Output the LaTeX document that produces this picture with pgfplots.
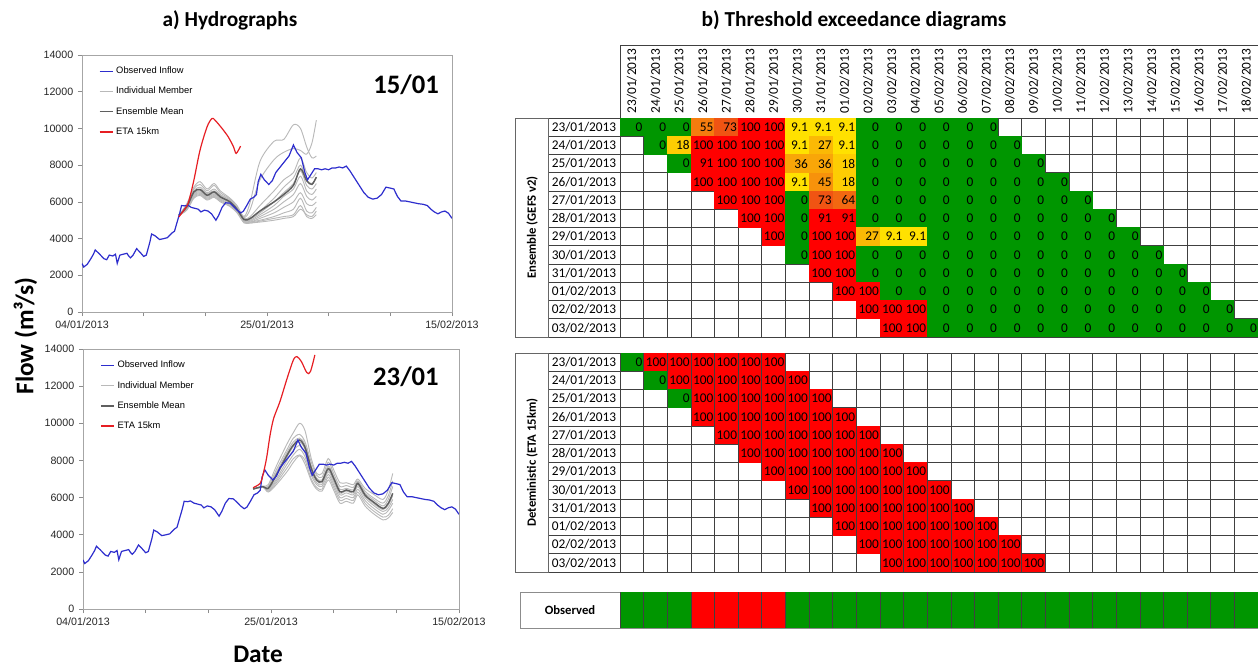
\documentclass[border=0pt]{standalone}
\usepackage{fontspec}
\setmainfont{Carlito}
\newfontfamily\arial{Liberation Sans}
\usepackage{pgfplots}
\usepackage{pgfplotstable}
\pgfplotsset{compat=1.18}

\definecolor{obsblue}{RGB}{45,45,205}
\definecolor{etared}{RGB}{230,30,35}
\definecolor{memgray}{RGB}{185,185,185}
\definecolor{meangray}{RGB}{95,95,95}

% table cells (one column = 17.72pt)
\pgfdeclareplotmark{cellE}{\pgfpathrectangle{\pgfqpoint{-8.95pt}{-6.95pt}}{\pgfqpoint{17.9pt}{13.9pt}}\pgfusepathqfill}
\pgfdeclareplotmark{cellO}{\pgfpathrectangle{\pgfqpoint{-8.95pt}{-13.6pt}}{\pgfqpoint{17.9pt}{27.2pt}}\pgfusepathqfill}
\pgfdeclareplotmark{nothing}{}

\pgfplotsset{
  hydro/.style={
    scale only axis, anchor=south west,
    xmin=0, xmax=42, ymin=0, ymax=14000,
    xtick={0,7,...,42}, xticklabels={04/01/2013,,,25/01/2013,,,15/02/2013},
    ytick={0,2000,...,14000}, scaled y ticks=false,
    xtick pos=bottom, ytick pos=left, tick align=outside, major tick length=3pt,
    tick style={black!45, line width=0.5pt},
    axis line style={black!35, line width=0.6pt},
    tick label style={font=\arial\fontsize{8}{9}\selectfont, text=black!85},
    /pgf/number format/1000 sep={}, /pgf/number format/assume math mode=true,
    legend style={at={(axis description cs:0.045,0.965)}, anchor=north west, draw=none, fill=none,
      font=\arial\fontsize{7}{8}\selectfont, row sep=4.6pt, inner sep=0pt},
    legend cell align=left,
    legend image code/.code={\draw[##1] (0pt,0pt) -- (10pt,0pt);},
  },
  exctable/.style={
    scale only axis, anchor=south west, y dir=reverse, xmax=26.5,
    major tick length=0pt, minor tick length=0pt,
    minor xtick={-0.5,0.5,...,26.5},
    xminorgrids, yminorgrids,
    minor grid style={black!75, line width=0.45pt},
    axis line style={black!75, line width=0.6pt},
    axis on top,
    colormap={exc}{rgb255(0pt)=(0,150,0); rgb255(1pt)=(0,150,0); rgb255(5pt)=(255,228,0); rgb255(9pt)=(255,225,0); rgb255(75pt)=(240,80,20); rgb255(85pt)=(255,0,0); rgb255(100pt)=(255,0,0)},
    point meta min=0, point meta max=100,
    tick label style={font=\fontsize{10}{11}\selectfont},
    /pgf/number format/assume math mode=true,
  },
  nolabels/.style={xtick={0,...,26}, xticklabels={,,,,,,,,,,,,,,,,,,,,,,,,,,}},
  excplot/.style={
    scatter, only marks, mark=#1, scatter src=explicit,
    scatter/use mapped color={draw=none, fill=mapped color},
  },
  excnums/.style={
    only marks, mark=nothing, point meta=explicit,
    nodes near coords,
    every node near coord/.append style={anchor=east, xshift=8.6pt, text=black,
      inner sep=0.4pt, font=\fontsize{10}{11}\selectfont},
  },
}

\pgfplotstableread{
d q
0.0 2640
0.2 2450
0.6 2600
1.0 2900
1.3 3150
1.5 3380
1.9 3200
2.2 3050
2.5 2900
2.8 2850
3.1 3100
3.5 3050
3.8 3150
4.0 2650
4.3 3100
4.7 3150
5.1 3200
5.3 3050
5.5 2950
5.8 3100
6.2 3450
6.6 3250
7.0 3030
7.3 3100
7.7 3800
7.9 4250
8.3 4150
8.8 3950
9.3 4000
9.7 4050
10.2 4300
10.5 4400
10.8 4900
11.1 5400
11.3 5800
11.7 5780
12.0 5820
12.4 5700
12.8 5650
13.2 5600
13.5 5450
13.9 5550
14.3 5500
14.7 5350
15.2 5000
15.5 5250
15.9 5700
16.3 5950
16.8 5930
17.2 5750
17.6 5550
18.0 5400
18.3 5480
18.7 5800
19.1 6150
19.5 6250
19.8 6400
20.0 7100
20.3 7500
20.7 7200
21.2 6950
21.6 7150
22.0 7600
22.5 7900
23.0 8200
23.5 8500
24.0 9100
24.4 8700
24.9 8400
25.3 7600
25.6 7200
26.0 7500
26.4 7800
26.8 7800
27.2 7750
27.6 7800
28.0 7750
28.4 7850
28.8 7850
29.2 7900
29.6 7850
30.0 7950
30.4 7700
30.8 7400
31.2 7100
31.6 6800
32.0 6500
32.5 6250
33.0 6150
33.5 6200
34.0 6400
34.5 6800
35.0 6750
35.4 6700
35.8 6300
36.2 6050
36.7 6050
37.2 6000
37.7 5950
38.2 5900
38.7 5870
39.2 5800
39.6 5600
40.0 5450
40.4 5350
40.8 5450
41.2 5500
41.6 5380
42.0 5100
}\obs

% forecast of 15/01
\pgfplotstableread{
d m1 m2 m3 m4 m5 m6 m7 m8 m9 m10 m11 mean
11.0 5270 5270 5270 5270 5270 5270 5270 5270 5270 5270 5270 5270
11.9 5900 5850 5800 5750 5700 5700 5650 5650 5600 5600 5550 5730
12.7 6800 6700 6600 6550 6500 6450 6400 6350 6300 6250 6200 6545
13.4 7100 6950 6800 6700 6650 6600 6550 6500 6450 6400 6350 6670
14.2 6700 6600 6500 6450 6400 6350 6300 6250 6200 6150 6100 6360
15.0 7000 6900 6700 6600 6550 6500 6450 6400 6350 6300 6250 6545
15.7 6600 6500 6400 6350 6300 6250 6200 6150 6100 6050 6000 6270
16.8 6200 6150 6100 6050 6000 6000 5950 5900 5850 5800 5750 6000
17.6 5800 5700 5700 5650 5600 5600 5550 5500 5500 5450 5400 5600
18.4 5200 5150 5100 5050 5000 5000 4950 4950 4900 4900 4850 5030
19.1 6000 5600 5200 5100 5050 5000 4950 4900 4900 4850 4850 5100
20.2 8200 7200 5800 5500 5400 5300 5200 5100 5000 4950 4900 5500
21.8 9300 8300 6600 6200 6000 5800 5600 5400 5200 5100 5000 6000
22.9 9400 8700 7200 6800 6500 6300 6000 5700 5400 5200 5100 6400
24.0 10200 8900 7600 7300 7000 6700 6400 6000 5600 5300 5200 6900
24.8 10000 8800 8400 8000 7700 7400 7000 6500 6200 5800 5600 7800
25.5 9000 8600 7600 7200 6900 6600 6300 5900 5500 5200 5300 7150
26.1 8400 9200 7300 7000 6700 6400 6100 5800 5400 5100 5200 6950
26.6 8500 10450 7600 7300 7000 6700 6300 6000 5700 5300 5500 7350
}\ensA

\pgfplotstableread{
d q
11.0 5180
11.7 5640
12.1 6000
12.7 7180
13.4 8820
14.2 10090
14.75 10540
15.1 10450
15.9 10000
16.6 9540
17.2 9000
17.5 8640
18.0 9040
}\etaA

% forecast of 23/01
\pgfplotstableread{
d m1 m2 m3 m4 m5 m6 m7 m8 mean
19.0 6460 6460 6460 6460 6460 6460 6460 6460 6460
20.1 6620 6600 6590 6590 6580 6570 6560 6550 6590
20.7 6700 6600 6550 6480 6450 6400 6350 6300 6500
21.6 7700 7500 7350 7150 7000 6900 6800 6700 7220
22.8 8900 8600 8450 8200 8000 7800 7600 7400 8290
23.5 9500 9200 9000 8750 8550 8300 8100 7900 8830
24.2 10000 9400 9200 9000 8800 8600 8300 8250 9100
24.8 9600 9000 8850 8600 8400 8200 8000 7800 8700
25.5 8100 7900 7700 7500 7350 7200 7000 6900 7570
26.1 7300 7200 7050 6900 6800 6700 6550 6450 6950
26.7 7300 7100 6950 6800 6700 6600 6450 6350 6860
27.4 8100 7900 7700 7500 7400 7250 7100 6950 7570
28.0 7500 7300 7150 6950 6850 6700 6550 6400 7040
28.7 6800 6600 6450 6250 6150 6000 5850 5700 6320
29.4 6800 6650 6500 6350 6250 6100 5950 5800 6410
30.2 6700 6550 6420 6250 6150 6000 5850 5700 6320
30.7 7000 6900 6850 6700 6600 6450 6300 6150 6770
31.5 6500 6350 6250 6100 6000 5850 5700 5550 6140
32.4 6200 6000 5900 5700 5600 5450 5300 5150 5780
33.5 5900 5700 5550 5350 5250 5100 4950 4800 5420
34.1 6400 6100 5900 5600 5450 5300 5050 4900 5690
34.6 7300 6900 6600 6100 5900 5700 5400 5200 6230
}\ensB

\pgfplotstableread{
d q
19.0 6530
19.8 6770
20.1 7220
20.5 8110
20.9 9370
21.3 10270
22.0 11170
22.8 12420
23.5 13410
23.9 13590
24.4 13320
25.0 12730
25.4 12780
25.9 13680
}\etaB

% exceedance probabilities (%), column = date, row = forecast issue date
\pgfplotstableread[row sep=\\]{
x y v \\
0 0 0 \\ 1 0 0 \\ 2 0 0 \\ 3 0 55 \\ 4 0 73 \\ 5 0 100 \\ 6 0 100 \\ 7 0 9.1 \\ 8 0 9.1 \\ 9 0 9.1 \\ 10 0 0 \\ 11 0 0 \\ 12 0 0 \\ 13 0 0 \\ 14 0 0 \\ 15 0 0 \\
1 1 0 \\ 2 1 18 \\ 3 1 100 \\ 4 1 100 \\ 5 1 100 \\ 6 1 100 \\ 7 1 9.1 \\ 8 1 27 \\ 9 1 9.1 \\ 10 1 0 \\ 11 1 0 \\ 12 1 0 \\ 13 1 0 \\ 14 1 0 \\ 15 1 0 \\ 16 1 0 \\
2 2 0 \\ 3 2 91 \\ 4 2 100 \\ 5 2 100 \\ 6 2 100 \\ 7 2 36 \\ 8 2 36 \\ 9 2 18 \\ 10 2 0 \\ 11 2 0 \\ 12 2 0 \\ 13 2 0 \\ 14 2 0 \\ 15 2 0 \\ 16 2 0 \\ 17 2 0 \\
3 3 100 \\ 4 3 100 \\ 5 3 100 \\ 6 3 100 \\ 7 3 9.1 \\ 8 3 45 \\ 9 3 18 \\ 10 3 0 \\ 11 3 0 \\ 12 3 0 \\ 13 3 0 \\ 14 3 0 \\ 15 3 0 \\ 16 3 0 \\ 17 3 0 \\ 18 3 0 \\
4 4 100 \\ 5 4 100 \\ 6 4 100 \\ 7 4 0 \\ 8 4 73 \\ 9 4 64 \\ 10 4 0 \\ 11 4 0 \\ 12 4 0 \\ 13 4 0 \\ 14 4 0 \\ 15 4 0 \\ 16 4 0 \\ 17 4 0 \\ 18 4 0 \\ 19 4 0 \\
5 5 100 \\ 6 5 100 \\ 7 5 0 \\ 8 5 91 \\ 9 5 91 \\ 10 5 0 \\ 11 5 0 \\ 12 5 0 \\ 13 5 0 \\ 14 5 0 \\ 15 5 0 \\ 16 5 0 \\ 17 5 0 \\ 18 5 0 \\ 19 5 0 \\ 20 5 0 \\
6 6 100 \\ 7 6 0 \\ 8 6 100 \\ 9 6 100 \\ 10 6 27 \\ 11 6 9.1 \\ 12 6 9.1 \\ 13 6 0 \\ 14 6 0 \\ 15 6 0 \\ 16 6 0 \\ 17 6 0 \\ 18 6 0 \\ 19 6 0 \\ 20 6 0 \\ 21 6 0 \\
7 7 0 \\ 8 7 100 \\ 9 7 100 \\ 10 7 0 \\ 11 7 0 \\ 12 7 0 \\ 13 7 0 \\ 14 7 0 \\ 15 7 0 \\ 16 7 0 \\ 17 7 0 \\ 18 7 0 \\ 19 7 0 \\ 20 7 0 \\ 21 7 0 \\ 22 7 0 \\
8 8 100 \\ 9 8 100 \\ 10 8 0 \\ 11 8 0 \\ 12 8 0 \\ 13 8 0 \\ 14 8 0 \\ 15 8 0 \\ 16 8 0 \\ 17 8 0 \\ 18 8 0 \\ 19 8 0 \\ 20 8 0 \\ 21 8 0 \\ 22 8 0 \\ 23 8 0 \\
9 9 100 \\ 10 9 100 \\ 11 9 0 \\ 12 9 0 \\ 13 9 0 \\ 14 9 0 \\ 15 9 0 \\ 16 9 0 \\ 17 9 0 \\ 18 9 0 \\ 19 9 0 \\ 20 9 0 \\ 21 9 0 \\ 22 9 0 \\ 23 9 0 \\ 24 9 0 \\
10 10 100 \\ 11 10 100 \\ 12 10 100 \\ 13 10 0 \\ 14 10 0 \\ 15 10 0 \\ 16 10 0 \\ 17 10 0 \\ 18 10 0 \\ 19 10 0 \\ 20 10 0 \\ 21 10 0 \\ 22 10 0 \\ 23 10 0 \\ 24 10 0 \\ 25 10 0 \\
11 11 100 \\ 12 11 100 \\ 13 11 0 \\ 14 11 0 \\ 15 11 0 \\ 16 11 0 \\ 17 11 0 \\ 18 11 0 \\ 19 11 0 \\ 20 11 0 \\ 21 11 0 \\ 22 11 0 \\ 23 11 0 \\ 24 11 0 \\ 25 11 0 \\ 26 11 0 \\
}\ensT

\pgfplotstableread[row sep=\\]{
x y v \\
0 0 0 \\ 1 0 100 \\ 2 0 100 \\ 3 0 100 \\ 4 0 100 \\ 5 0 100 \\ 6 0 100 \\
1 1 0 \\ 2 1 100 \\ 3 1 100 \\ 4 1 100 \\ 5 1 100 \\ 6 1 100 \\ 7 1 100 \\
2 2 0 \\ 3 2 100 \\ 4 2 100 \\ 5 2 100 \\ 6 2 100 \\ 7 2 100 \\ 8 2 100 \\
3 3 100 \\ 4 3 100 \\ 5 3 100 \\ 6 3 100 \\ 7 3 100 \\ 8 3 100 \\ 9 3 100 \\
4 4 100 \\ 5 4 100 \\ 6 4 100 \\ 7 4 100 \\ 8 4 100 \\ 9 4 100 \\ 10 4 100 \\
5 5 100 \\ 6 5 100 \\ 7 5 100 \\ 8 5 100 \\ 9 5 100 \\ 10 5 100 \\ 11 5 100 \\
6 6 100 \\ 7 6 100 \\ 8 6 100 \\ 9 6 100 \\ 10 6 100 \\ 11 6 100 \\ 12 6 100 \\
7 7 100 \\ 8 7 100 \\ 9 7 100 \\ 10 7 100 \\ 11 7 100 \\ 12 7 100 \\ 13 7 100 \\
8 8 100 \\ 9 8 100 \\ 10 8 100 \\ 11 8 100 \\ 12 8 100 \\ 13 8 100 \\ 14 8 100 \\
9 9 100 \\ 10 9 100 \\ 11 9 100 \\ 12 9 100 \\ 13 9 100 \\ 14 9 100 \\ 15 9 100 \\
10 10 100 \\ 11 10 100 \\ 12 10 100 \\ 13 10 100 \\ 14 10 100 \\ 15 10 100 \\ 16 10 100 \\
11 11 100 \\ 12 11 100 \\ 13 11 100 \\ 14 11 100 \\ 15 11 100 \\ 16 11 100 \\ 17 11 100 \\
}\detT

\pgfplotstableread[row sep=\\]{
x y v \\
0 0 0 \\ 1 0 0 \\ 2 0 0 \\ 3 0 100 \\ 4 0 100 \\ 5 0 100 \\ 6 0 100 \\ 7 0 0 \\ 8 0 0 \\
9 0 0 \\ 10 0 0 \\ 11 0 0 \\ 12 0 0 \\ 13 0 0 \\ 14 0 0 \\ 15 0 0 \\ 16 0 0 \\ 17 0 0 \\
18 0 0 \\ 19 0 0 \\ 20 0 0 \\ 21 0 0 \\ 22 0 0 \\ 23 0 0 \\ 24 0 0 \\ 25 0 0 \\ 26 0 0 \\
}\obsT

\begin{document}
\begin{tikzpicture}
\useasboundingbox (0pt,0pt) rectangle (943.5pt,-501.75pt);

\node[font=\bfseries\fontsize{16}{18}\selectfont] at (172.5pt,-15pt) {a) Hydrographs};
\node[font=\bfseries\fontsize{16}{18}\selectfont] at (640.5pt,-15pt) {b) Threshold exceedance diagrams};
\node[rotate=90, font=\bfseries\fontsize{19}{20}\selectfont] at (19pt,-252pt) {Flow (m³/s)};
\node[font=\bfseries\fontsize{19}{20}\selectfont] at (193.5pt,-491pt) {Date};

% ---- hydrograph, forecast 15/01
\begin{axis}[hydro, at={(61.5pt,-234pt)}, width=277.5pt, height=192.75pt]
\addlegendimage{obsblue, line width=1pt}\addlegendentry{Observed Inflow}
\addlegendimage{memgray, line width=1pt}\addlegendentry{Individual Member}
\addlegendimage{meangray, line width=1pt}\addlegendentry{Ensemble Mean}
\addlegendimage{etared, line width=1pt}\addlegendentry{ETA 15km}
\pgfplotsinvokeforeach{1,...,11}{
  \addplot[memgray, line width=0.7pt, smooth, tension=0.5, forget plot] table[x=d, y=m#1] {\ensA};
}
\addplot[meangray, line width=1.1pt, smooth, tension=0.5, forget plot] table[x=d, y=mean] {\ensA};
\addplot[obsblue, line width=0.9pt, forget plot] table[x=d, y=q] {\obs};
\addplot[etared, line width=0.9pt, smooth, tension=0.5, forget plot] table[x=d, y=q] {\etaA};
\node[font=\bfseries\fontsize{20}{21}\selectfont] at (rel axis cs:0.876,0.883) {15/01};
\end{axis}

% ---- hydrograph, forecast 23/01
\begin{axis}[hydro, at={(62.25pt,-456.75pt)}, width=282pt, height=195pt]
\addlegendimage{obsblue, line width=1pt}\addlegendentry{Observed Inflow}
\addlegendimage{memgray, line width=1pt}\addlegendentry{Individual Member}
\addlegendimage{meangray, line width=1pt}\addlegendentry{Ensemble Mean}
\addlegendimage{etared, line width=1pt}\addlegendentry{ETA 15km}
\pgfplotsinvokeforeach{1,...,8}{
  \addplot[memgray, line width=0.7pt, smooth, tension=0.5, forget plot] table[x=d, y=m#1] {\ensB};
}
\addplot[meangray, line width=1.1pt, smooth, tension=0.5, forget plot] table[x=d, y=mean] {\ensB};
\addplot[obsblue, line width=0.9pt, forget plot] table[x=d, y=q] {\obs};
\addplot[etared, line width=0.9pt, smooth, tension=0.5, forget plot] table[x=d, y=q] {\etaB};
\node[font=\bfseries\fontsize{20}{21}\selectfont] at (rel axis cs:0.859,0.892) {23/01};
\end{axis}

% ---- header boxes
\begin{axis}[scale only axis, anchor=south west, at={(465pt,-88.5pt)}, width=478.5pt, height=54.75pt,
  xmin=-0.5, xmax=26.5, ymin=0, ymax=1, xtick=\empty, ytick=\empty,
  minor xtick={-0.5,0.5,...,26.5}, xminorgrids, minor tick length=0pt,
  minor grid style={black!75, line width=0.45pt}, axis line style={black!75, line width=0.6pt}]
\end{axis}

% ---- ensemble table
\begin{axis}[exctable, at={(411pt,-252.75pt)}, width=532.5pt, height=164.25pt,
  xmin=-3.547, ymin=-0.5, ymax=11.5,
  xtick={0,...,26},
  xticklabels={23/01/2013,24/01/2013,25/01/2013,26/01/2013,27/01/2013,28/01/2013,29/01/2013,30/01/2013,31/01/2013,01/02/2013,02/02/2013,03/02/2013,04/02/2013,05/02/2013,06/02/2013,07/02/2013,08/02/2013,09/02/2013,10/02/2013,11/02/2013,12/02/2013,13/02/2013,14/02/2013,15/02/2013,16/02/2013,17/02/2013,18/02/2013},
  xticklabel pos=right, xticklabel style={rotate=90, anchor=west},
  ytick={0,...,11},
  yticklabels={23/01/2013,24/01/2013,25/01/2013,26/01/2013,27/01/2013,28/01/2013,29/01/2013,30/01/2013,31/01/2013,01/02/2013,02/02/2013,03/02/2013},
  yticklabel style={anchor=center, xshift=27pt},
  minor ytick={-0.5,0.5,...,11.5},
  ylabel={\bfseries Ensemble (GEFS v2)},
  ylabel style={at={(axis description cs:-0.0225,0.5)}, anchor=center, font=\fontsize{9.5}{10}\selectfont}]
\addplot[excplot=cellE] table[x=x, y=y, meta=v] {\ensT};
\addplot[excnums] table[x=x, y=y, meta=v] {\ensT};
\end{axis}

% ---- deterministic table
\begin{axis}[exctable, nolabels, at={(411pt,-429pt)}, width=532.5pt, height=164.25pt,
  xmin=-3.547, ymin=-0.5, ymax=11.5,
  ytick={0,...,11},
  yticklabels={23/01/2013,24/01/2013,25/01/2013,26/01/2013,27/01/2013,28/01/2013,29/01/2013,30/01/2013,31/01/2013,01/02/2013,02/02/2013,03/02/2013},
  yticklabel style={anchor=center, xshift=27pt},
  minor ytick={-0.5,0.5,...,11.5},
  ylabel={\bfseries Deteministic (ETA 15km)},
  ylabel style={at={(axis description cs:-0.0225,0.5)}, anchor=center, font=\fontsize{9.5}{10}\selectfont}]
\addplot[excplot=cellE] table[x=x, y=y, meta=v] {\detT};
\addplot[excnums] table[x=x, y=y, meta=v] {\detT};
\end{axis}

% ---- observed row
\begin{axis}[exctable, nolabels, at={(390pt,-471pt)}, width=553.5pt, height=27pt,
  xmin=-4.732, ymin=-0.5, ymax=0.5,
  axis line style={black!45, line width=0.6pt},
  ytick={0}, yticklabels={\bfseries Observed},
  yticklabel style={anchor=center, xshift=37.5pt, font=\fontsize{9.5}{10}\selectfont}]
\addplot[excplot=cellO] table[x=x, y=y, meta=v] {\obsT};
\end{axis}

% column borders of the deterministic and observed blocks
\foreach \i in {0,...,27} {
  \draw[black!75, line width=0.45pt] (465pt+\i*17.7222pt,-264.75pt) -- ++(0pt,-164.25pt);
  \draw[black!75, line width=0.45pt] (465pt+\i*17.7222pt,-444pt) -- ++(0pt,-27pt);
}
\draw[black!60, line width=0.6pt] (386.25pt,-88.5pt) rectangle (411pt,-252.75pt);
\draw[black!60, line width=0.6pt] (386.25pt,-264.75pt) rectangle (411pt,-429pt);
\end{tikzpicture}
\end{document}
